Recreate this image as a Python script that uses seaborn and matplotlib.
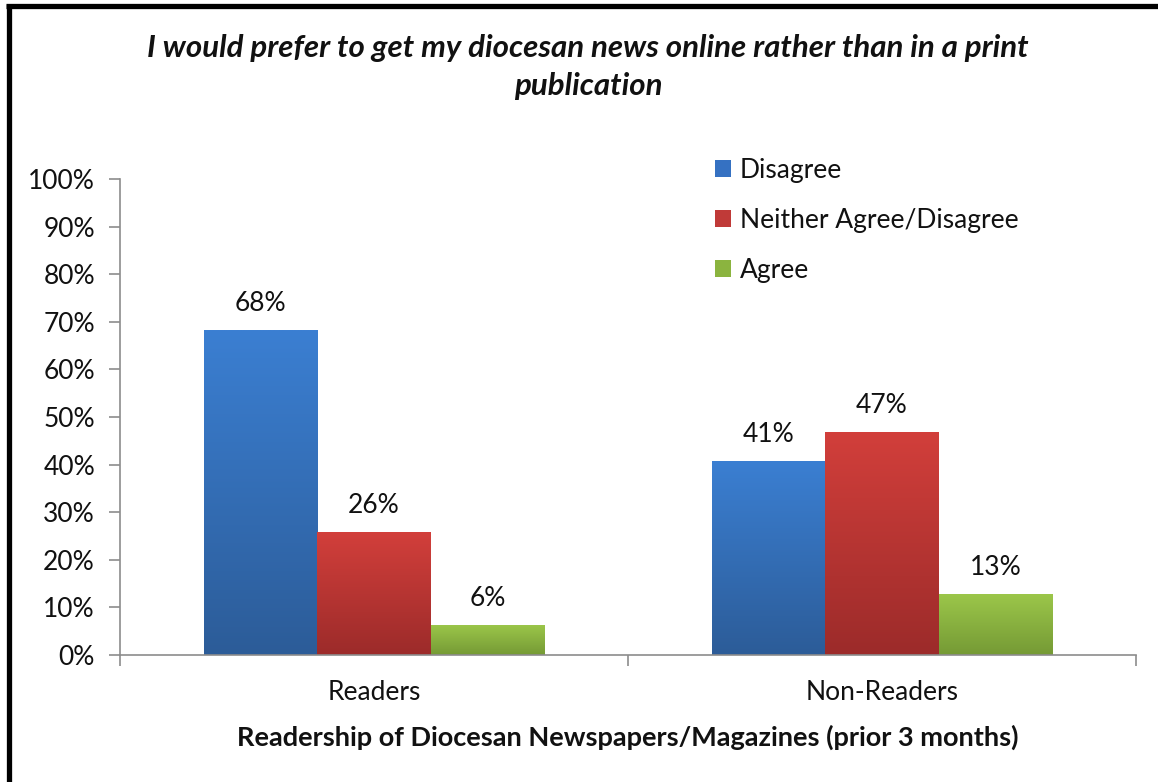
import numpy as np
import pandas as pd
import seaborn as sns
import matplotlib.pyplot as plt
from matplotlib.colors import LinearSegmentedColormap
from matplotlib.patches import Patch
from matplotlib.lines import Line2D

groups = ['Readers', 'Non-Readers']
responses = ['Disagree', 'Neither Agree/Disagree', 'Agree']
readers = [68.2, 25.8, 6.4]
non_readers = [40.7, 46.9, 12.9]

# top / bottom colours of the Excel-style gradient fills
top_colors = ['#3B7FD2', '#D23F3B', '#9CC74A']
bottom_colors = ['#2C5C98', '#9C2B2A', '#759A35']
mid_colors = ['#3571C2', '#C03A38', '#8BB43F']

df = pd.DataFrame({
    'group': np.repeat(groups, len(responses)),
    'response': responses * len(groups),
    'value': readers + non_readers,
})

sns.set_theme(style='white')
plt.rcParams['font.family'] = ['Lato', 'DejaVu Sans']
FS = 19

fig = plt.figure(figsize=(11.58, 7.82), dpi=100)
ax = fig.add_axes([120 / 1158, 1 - 655 / 782, 1016 / 1158, 476 / 782])

sns.barplot(data=df, x='group', y='value', hue='response', order=groups,
            hue_order=responses, palette=mid_colors, width=0.67, gap=0,
            saturation=1, legend=False, ax=ax, linewidth=0)

# gradient fill for each bar, clipped to the bar rectangle
for container, c_top, c_bot in zip(ax.containers, top_colors, bottom_colors):
    cmap = LinearSegmentedColormap.from_list('g', [c_bot, c_top])
    for bar in container:
        x0, w, h = bar.get_x(), bar.get_width(), bar.get_height()
        grad = np.linspace(0, 1, 256).reshape(-1, 1)
        im = ax.imshow(grad, extent=[x0, x0 + w, 0, h], origin='lower',
                       aspect='auto', cmap=cmap, zorder=bar.get_zorder())
        im.set_clip_path(bar)
    ax.bar_label(container, labels=[f'{v:.0f}%' for v in container.datavalues],
                 padding=10, fontsize=FS, color='#111111')

ax.set_xlim(-0.5, 1.5)
ax.set_ylim(0, 100)
ax.set_yticks(range(0, 101, 10))
ax.set_yticklabels([f'{t}%' for t in range(0, 101, 10)])
ax.set_xticks([-0.5, 0.5, 1.5], minor=True)

for side in ['top', 'right']:
    ax.spines[side].set_visible(False)
for side in ['left', 'bottom']:
    ax.spines[side].set_color('#8C8C8C')
    ax.spines[side].set_linewidth(1.2)

ax.tick_params(axis='y', length=8, width=1.2, color='#8C8C8C', direction='out',
               left=True, pad=10, labelsize=FS, labelcolor='#111111')
ax.tick_params(axis='x', which='major', length=0, pad=18, labelsize=FS,
               labelcolor='#111111')
ax.tick_params(axis='x', which='minor', length=8, width=1.2, color='#8C8C8C',
               direction='out', bottom=True)

ax.set_ylabel('')
ax.set_xlabel('Readership of Diocesan Newspapers/Magazines (prior 3 months)',
              fontsize=19.5, fontweight='bold', color='#111111', labelpad=14)

handles = [Patch(facecolor=c, edgecolor='none') for c in mid_colors]
fig.legend(handles, responses, loc='upper left',
           bbox_to_anchor=(715 / 1158, 1 - 158 / 782), frameon=False,
           fontsize=FS, handlelength=0.6, handleheight=0.6, handletextpad=0.35,
           labelspacing=0.95, borderpad=0, borderaxespad=0, labelcolor='#111111')

fig.text(588 / 1158, 1 - 67 / 782,
         'I would prefer to get my diocesan news online rather than in a print\npublication',
         ha='center', va='center', fontsize=22.5, fontstyle='italic',
         fontweight='bold', linespacing=1.4, color='#111111')

# chart frame: thick black top and left edges
fig.add_artist(Line2D([6 / 1158, 1], [1 - 6 / 782, 1 - 6 / 782], color='black',
                      lw=3.8, transform=fig.transFigure, solid_capstyle='butt'))
fig.add_artist(Line2D([8.5 / 1158, 8.5 / 1158], [0, 1 - 4 / 782], color='black',
                      lw=3.8, transform=fig.transFigure, solid_capstyle='butt'))

fig.savefig('out.png', dpi=100)
